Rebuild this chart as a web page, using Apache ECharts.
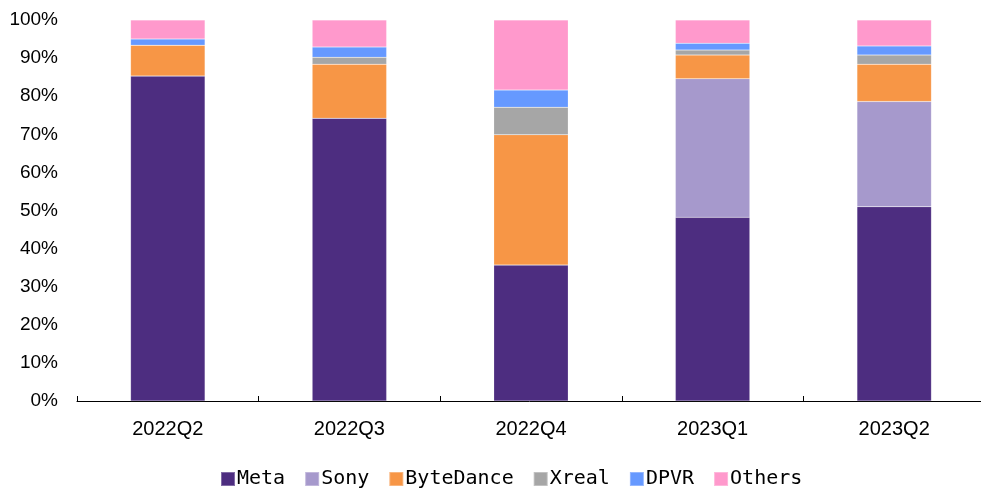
<!DOCTYPE html>
<html><head><meta charset="utf-8">
<script src="https://cdn.jsdelivr.net/npm/echarts@6/dist/echarts.min.js"></script>
<style>html,body{margin:0;padding:0;background:#fff}#c{width:981px;height:488px}</style>
</head><body><div id="c"></div>
<script>
const categories = ['2022Q2','2022Q3','2022Q4','2023Q1','2023Q2'];
const seriesNames = ['Meta','Sony','ByteDance','Xreal','DPVR','Others'];
const meta      = [85.3, 74.2, 35.7, 48.2, 51.0];
const sony      = [0, 0, 0, 36.4, 27.6];
const byteDance = [8.1, 14.2, 34.2, 6.2, 9.8];
const xreal     = [0, 1.8, 7.2, 1.3, 2.4];
const dpvr      = [1.6, 2.7, 4.5, 1.8, 2.4];
const others    = [5.0, 7.1, 18.4, 6.1, 6.8];
const yTicks = [0,10,20,30,40,50,60,70,80,90,100];
const colors = ['#4d2d80','#a699cc','#f79646','#a6a6a6','#6699ff','#ff99cc'];
const values = [meta, sony, byteDance, xreal, dpvr, others];

const chart = echarts.init(document.getElementById('c'));
chart.setOption({
  animation: false,
  color: colors,
  grid: {left: 77, width: 908, top: 20, height: 381, containLabel: false, outerBoundsMode: 'none'},
  legend: {
    top: 464, left: 215, itemWidth: 14, itemHeight: 14, itemGap: 19,
    icon: 'rect',
    textStyle: {fontFamily: 'DejaVu Sans Mono', fontSize: 20, color: '#000', padding: [0,0,0,-3]},
    data: seriesNames
  },
  xAxis: {
    type: 'category', data: categories,
    axisLine: {lineStyle: {color: '#000', width: 1}},
    axisTick: {show: true, inside: true, length: 5, lineStyle: {color: '#000'}},
    axisLabel: {fontFamily: 'Liberation Sans', fontSize: 20, color: '#000', margin: 18}
  },
  yAxis: {
    type: 'value', min: 0, max: 100, interval: 10,
    axisLine: {show: false}, axisTick: {show: false}, splitLine: {show: false},
    axisLabel: {fontFamily: 'Liberation Sans', fontSize: 19, color: '#000', margin: 19,
      formatter: v => yTicks.includes(v) ? v + '%' : ''}
  },
  series: seriesNames.map((n, i) => ({
    name: n, type: 'bar', stack: 'total', barWidth: '41%',
    data: values[i],
    itemStyle: {color: colors[i], borderColor: 'rgba(255,255,255,0.3)', borderWidth: 0.5}
  }))
});
</script></body></html>
